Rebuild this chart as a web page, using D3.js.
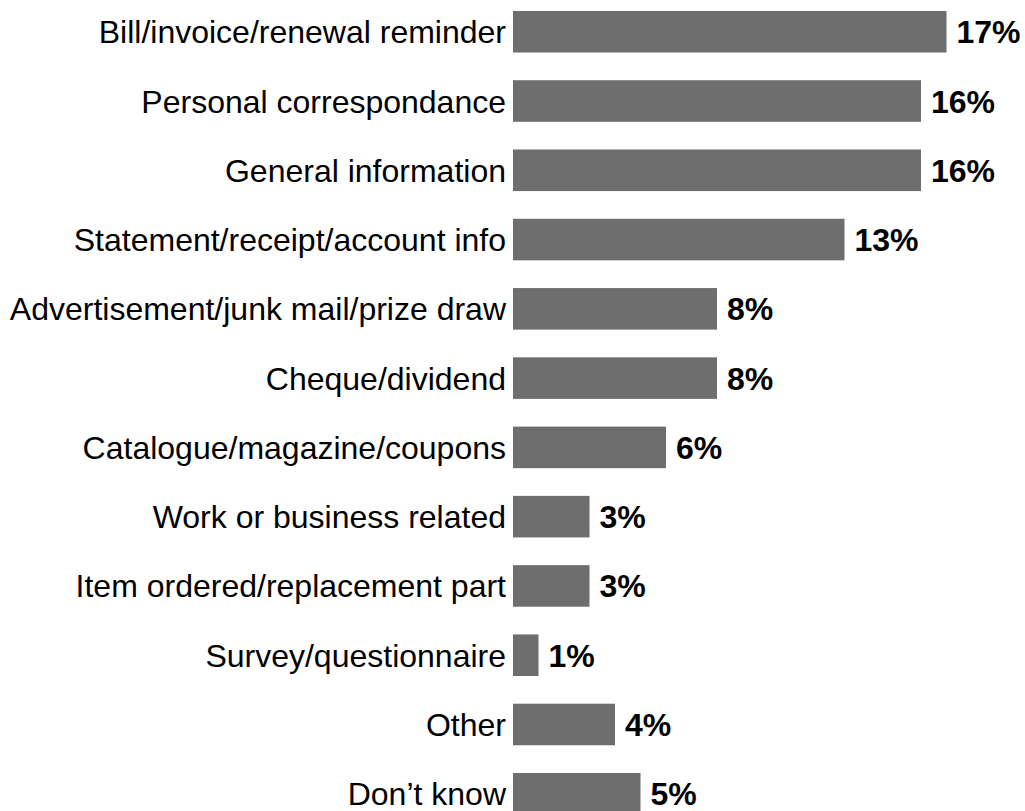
<!DOCTYPE html>
<html>
<head>
<meta charset="utf-8">
<script src="https://cdn.jsdelivr.net/npm/d3@7"></script>
<style>
  html, body { margin: 0; padding: 0; background: #ffffff; }
  svg { display: block; }
</style>
</head>
<body>
<svg id="chart" width="1025" height="811"></svg>
<script>
// Mail item types and share of responses (%)
const categories = [
  "Bill/invoice/renewal reminder",
  "Personal correspondance",
  "General information",
  "Statement/receipt/account info",
  "Advertisement/junk mail/prize draw",
  "Cheque/dividend",
  "Catalogue/magazine/coupons",
  "Work or business related",
  "Item ordered/replacement part",
  "Survey/questionnaire",
  "Other",
  "Don\u2019t know"
];
const values = [17, 16, 16, 13, 8, 8, 6, 3, 3, 1, 4, 5];
const valueLabels = values.map(v => v + "%");

const fontSize = 32;
const barColor = "#6e6e6e";

const svg = d3.select("#chart");

const x = d3.scaleLinear()
  .domain([0, 17])
  .range([513, 946.5]);

const y = d3.scaleBand()
  .domain(categories)
  .range([-2.9, 828.4])
  .paddingInner(0.4)
  .paddingOuter(0.2);

const rows = categories.map((c, i) => ({ cat: c, value: values[i], label: valueLabels[i] }));

// Bars
svg.append("g")
  .selectAll("rect")
  .data(rows)
  .join("rect")
  .attr("x", x(0))
  .attr("y", d => y(d.cat))
  .attr("width", d => x(d.value) - x(0))
  .attr("height", y.bandwidth())
  .attr("fill", barColor);

// Category labels (left of bars)
svg.append("g")
  .selectAll("text")
  .data(rows)
  .join("text")
  .attr("x", x(0) - 7)
  .attr("y", d => y(d.cat) + y.bandwidth() / 2 + fontSize * 0.36)
  .attr("text-anchor", "end")
  .attr("font-family", "'Liberation Sans', Arial, sans-serif")
  .attr("font-size", fontSize)
  .attr("fill", "#000")
  .text(d => d.cat);

// Value labels (after bar end)
svg.append("g")
  .selectAll("text")
  .data(rows)
  .join("text")
  .attr("x", d => x(d.value) + 10)
  .attr("y", d => y(d.cat) + y.bandwidth() / 2 + fontSize * 0.36)
  .attr("text-anchor", "start")
  .attr("font-family", "'Liberation Sans', Arial, sans-serif")
  .attr("font-weight", "bold")
  .attr("font-size", fontSize)
  .attr("fill", "#000")
  .text(d => d.label);
</script>
</body>
</html>
